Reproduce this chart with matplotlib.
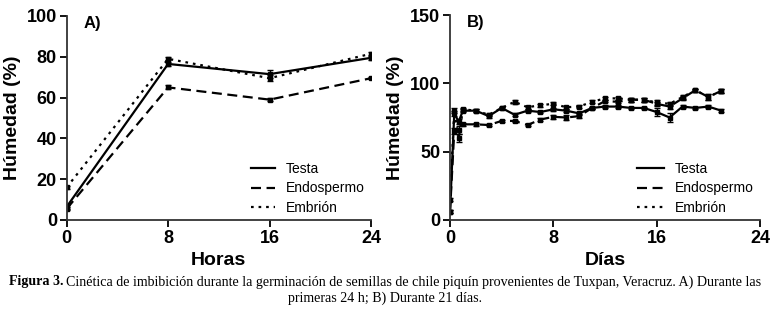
import matplotlib
matplotlib.use("Agg")
import matplotlib.pyplot as plt
from matplotlib.lines import Line2D
import numpy as np

# Panel A data (hours)
horas = [0, 8, 16, 24]
testa_a = [6.5, 76.5, 71.5, 79.5]
testa_a_err = [1.0, 1.0, 1.8, 1.0]
endo_a = [5.5, 65.0, 59.0, 69.5]
endo_a_err = [0.8, 1.0, 0.8, 0.6]
embrion_a = [16.0, 79.0, 69.5, 81.5]
embrion_a_err = [0.8, 0.8, 1.5, 0.8]

# Panel B data (days)
dias = [0, 0.33, 0.67, 1, 2, 3, 4, 5, 6, 7, 8, 9, 10, 11, 12, 13, 14, 15, 16, 17, 18, 19, 20, 21]
testa_b = [6, 78, 72, 80, 80, 76, 82, 77, 80, 79, 81, 80, 78, 82, 83, 83, 82, 82, 79, 75, 83, 82, 83, 80]
testa_b_err = [1, 2, 2, 1, 1, 1, 1, 1, 1, 1, 1, 1, 1, 1, 1, 1, 1, 1, 3, 3, 1, 1, 1, 1]
endo_b = [6, 65, 66, 70, 70, 69.5, 72.5, 72.5, 69.5, 73.5, 75.5, 75, 76, 82, 87, 86.5, 88, 88, 85, 83, 89, 95, 90, 94.5]
endo_b_err = [1, 2, 3, 1, 1, 1, 1, 1, 1, 1, 1.5, 1.5, 1.5, 1, 1, 1, 1.5, 1.5, 1.5, 1.5, 1.5, 1, 2, 1.5]
embrion_b = [15, 80, 60, 81, 80, 77, 82, 86.5, 82.5, 84, 85, 82.5, 83, 86.5, 89, 89, 88, 88, 86, 85, 90, 95, 90, 94.5]
embrion_b_err = [1, 2, 3, 1, 1, 1, 1, 1.5, 1, 1, 1, 1, 1, 1, 1, 1, 1.5, 1.5, 1.5, 1.5, 1.5, 1, 2, 1.5]

series_names = ["Testa", "Endospermo", "Embrión"]
styles = ["-", (0, (4.5, 2.5)), (0, (1.2, 2.2))]

plt.rcParams['font.family'] = ['Liberation Sans', 'DejaVu Sans']
fig = plt.figure(figsize=(7.75, 3.16), dpi=100)

W, H = 775, 316
axA = fig.add_axes([66.7 / W, 1 - 220 / H, (371 - 66.7) / W, (220 - 16) / H])
axB = fig.add_axes([450 / W, 1 - 220 / H, (760 - 450) / W, (220 - 15) / H])


def draw(ax, x, data, errs, xlim, ylim, yticks, xlabel, tag, ms, hl):
    for (vals, err), name, ls in zip(zip(data, errs), series_names, styles):
        ax.errorbar(x, vals, yerr=err, color="black", linestyle=ls, linewidth=1.6,
                    marker="s", markersize=ms, capsize=2.5, elinewidth=1.0,
                    capthick=1.0)
    ax.set_xlim(*xlim)
    ax.set_ylim(*ylim)
    ax.set_xticks([0, 8, 16, 24])
    ax.set_yticks(yticks)
    for s in ["top", "right"]:
        ax.spines[s].set_visible(False)
    for s in ["left", "bottom"]:
        ax.spines[s].set_linewidth(1.3)
        ax.spines[s].set_color("#333333")
    ax.tick_params(direction="out", length=5, width=1.3, labelsize=13, pad=2)
    for lab in ax.get_xticklabels() + ax.get_yticklabels():
        lab.set_fontweight("bold")
    ax.set_xlabel(xlabel, fontsize=14, fontweight="bold", labelpad=4)
    ax.set_ylabel("Húmedad (%)", fontsize=14, fontweight="bold", labelpad=4)
    ax.text(0.055, 0.965, tag, transform=ax.transAxes, fontsize=12, fontweight="bold",
            va="center", ha="left")
    handles = [Line2D([], [], color="black", linestyle=ls, linewidth=1.6) for ls in styles]
    ax.legend(handles, series_names, loc="lower right", bbox_to_anchor=(1.02, -0.035),
              frameon=False, fontsize=10, handlelength=hl, handletextpad=0.8,
              labelspacing=0.38)


draw(axA, horas, [testa_a, endo_a, embrion_a], [testa_a_err, endo_a_err, embrion_a_err],
     (0, 24), (0, 100), [0, 20, 40, 60, 80, 100], "Horas", "A)", 3, 1.7)
draw(axB, dias, [testa_b, endo_b, embrion_b], [testa_b_err, endo_b_err, embrion_b_err],
     (0, 24), (0, 150), [0, 50, 100, 150], "Días", "B)", 2.5, 1.9)

cap_font = ['Liberation Serif', 'DejaVu Serif']
cap_size = 10.1
t1 = fig.text(9 / W, 1 - 282 / H, "Figura 3.", fontsize=cap_size, fontweight="bold",
              family=cap_font, va="center", ha="left")
fig.canvas.draw()
bb = t1.get_window_extent()
fig.text((bb.x1 + 3) / W, 1 - 282 / H,
         "Cinética de imbibición durante la germinación de semillas de chile piquín provenientes de Tuxpan, Veracruz. A) Durante las",
         fontsize=cap_size, family=cap_font, va="center", ha="left")
fig.text(385 / W, 1 - 298 / H, "primeras 24 h; B) Durante 21 días.", fontsize=cap_size,
         family=cap_font, va="center", ha="center")

fig.savefig("out.png", dpi=100)
